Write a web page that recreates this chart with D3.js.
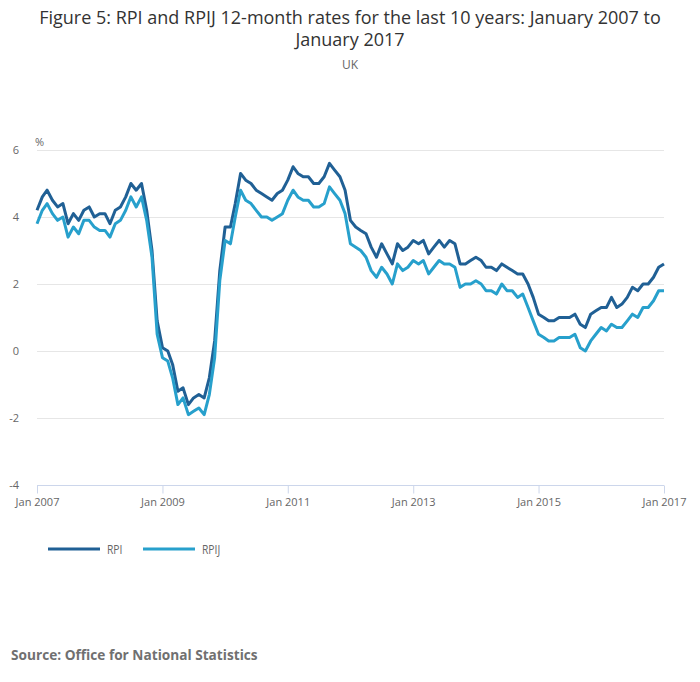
<!DOCTYPE html>
<html>
<head>
<meta charset="utf-8">
<script src="https://cdn.jsdelivr.net/npm/d3@7"></script>
<style>
  body { margin: 0; background: #fff; }
  text { font-family: "Open Sans", sans-serif; }
</style>
</head>
<body>
<script>
// chart size
var width = 700,
    height = 682;

// monthly 12-month rates, Jan 2007 .. Jan 2017
var startMonth = new Date(2007, 0, 1);

var rpi = [
  4.2, 4.6, 4.8, 4.5, 4.3, 4.4, 3.8, 4.1, 3.9, 4.2, 4.3, 4.0,
  4.1, 4.1, 3.8, 4.2, 4.3, 4.6, 5.0, 4.8, 5.0, 4.2, 3.0, 0.9,
  0.1, 0.0, -0.4, -1.2, -1.1, -1.6, -1.4, -1.3, -1.4, -0.8, 0.3, 2.4,
  3.7, 3.7, 4.4, 5.3, 5.1, 5.0, 4.8, 4.7, 4.6, 4.5, 4.7, 4.8,
  5.1, 5.5, 5.3, 5.2, 5.2, 5.0, 5.0, 5.2, 5.6, 5.4, 5.2, 4.8,
  3.9, 3.7, 3.6, 3.5, 3.1, 2.8, 3.2, 2.9, 2.6, 3.2, 3.0, 3.1,
  3.3, 3.2, 3.3, 2.9, 3.1, 3.3, 3.1, 3.3, 3.2, 2.6, 2.6, 2.7,
  2.8, 2.7, 2.5, 2.5, 2.4, 2.6, 2.5, 2.4, 2.3, 2.3, 2.0, 1.6,
  1.1, 1.0, 0.9, 0.9, 1.0, 1.0, 1.0, 1.1, 0.8, 0.7, 1.1, 1.2,
  1.3, 1.3, 1.6, 1.3, 1.4, 1.6, 1.9, 1.8, 2.0, 2.0, 2.2, 2.5,
  2.6
];

var rpij = [
  3.8, 4.2, 4.4, 4.1, 3.9, 4.0, 3.4, 3.7, 3.5, 3.9, 3.9, 3.7,
  3.6, 3.6, 3.4, 3.8, 3.9, 4.2, 4.6, 4.3, 4.6, 3.9, 2.8, 0.5,
  -0.2, -0.3, -0.8, -1.6, -1.4, -1.9, -1.8, -1.7, -1.9, -1.3, -0.2, 2.1,
  3.3, 3.2, 4.0, 4.8, 4.5, 4.4, 4.2, 4.0, 4.0, 3.9, 4.0, 4.1,
  4.5, 4.8, 4.6, 4.5, 4.5, 4.3, 4.3, 4.4, 4.9, 4.7, 4.5, 4.1,
  3.2, 3.1, 3.0, 2.8, 2.4, 2.2, 2.5, 2.3, 2.0, 2.6, 2.4, 2.5,
  2.7, 2.6, 2.7, 2.3, 2.5, 2.7, 2.6, 2.6, 2.5, 1.9, 2.0, 2.0,
  2.1, 2.0, 1.8, 1.8, 1.7, 2.0, 1.8, 1.8, 1.6, 1.7, 1.3, 0.9,
  0.5, 0.4, 0.3, 0.3, 0.4, 0.4, 0.4, 0.5, 0.1, 0.0, 0.3, 0.5,
  0.7, 0.6, 0.8, 0.7, 0.7, 0.9, 1.1, 1.0, 1.3, 1.3, 1.5, 1.8,
  1.8
];

var yTicks = [-4, -2, 0, 2, 4, 6];
var xTickYears = [2007, 2009, 2011, 2013, 2015, 2017];

var seriesNames = ["RPI", "RPIJ"];
var seriesColors = ["#206095", "#27a0cc"];

var titleLines = [
  "Figure 5: RPI and RPIJ 12-month rates for the last 10 years: January 2007 to",
  "January 2017"
];
var subtitle = "UK";
var source = "Source: Office for National Statistics";

// plot area
var margin = {top: 150, right: 36, bottom: 197, left: 37};

var months = rpi.map(function(d, i) { return d3.timeMonth.offset(startMonth, i); });

var x = d3.scaleTime()
    .domain([months[0], months[months.length - 1]])
    .range([margin.left, width - margin.right]);

var y = d3.scaleLinear()
    .domain([-4, 6])
    .range([height - margin.bottom, margin.top]);

var svg = d3.select("body").append("svg")
    .attr("width", width)
    .attr("height", height);

// legend labels are set in a narrower face in the original
function narrow(sel, k) {
  sel.each(function() {
    var w = this.getComputedTextLength();
    d3.select(this).attr("textLength", w * k).attr("lengthAdjust", "spacingAndGlyphs");
  });
}

//title
svg.selectAll(".title")
    .data(titleLines)
    .enter().append("text")
    .attr("class", "title")
    .attr("x", width / 2)
    .attr("y", function(d, i) { return 24 + i * 22; })
    .attr("text-anchor", "middle")
    .attr("font-size", 18)
    .attr("fill", "#333")
    .text(function(d) { return d; });

svg.append("text")
    .attr("x", width / 2)
    .attr("y", 69)
    .attr("text-anchor", "middle")
    .attr("font-size", 12)
    .attr("fill", "#666")
    .text(subtitle);

// grid lines
svg.append("g").selectAll("line")
    .data(yTicks)
    .enter().append("line")
    .attr("x1", margin.left)
    .attr("x2", width - margin.right)
    .attr("y1", function(d) { return y(d) + 0.5; })
    .attr("y2", function(d) { return y(d) + 0.5; })
    .attr("stroke", function(d) { return d === -4 ? "#ccd6eb" : "#e6e6e6"; })
    .attr("stroke-width", 1);

// y labels
svg.append("g").selectAll("text")
    .data(yTicks)
    .enter().append("text")
    .attr("x", 19)
    .attr("y", function(d) { return y(d) + 4; })
    .attr("text-anchor", "end")
    .attr("font-size", 11)
    .attr("fill", "#666")
    .text(function(d) { return d; });

svg.append("text")
    .attr("x", 35)
    .attr("y", 146)
    .attr("font-size", 11)
    .attr("fill", "#666")
    .text("%");

// x axis
var xAxis = d3.axisBottom(x)
    .tickValues(xTickYears.map(function(yr) { return new Date(yr, 0, 1); }))
    .tickFormat(d3.timeFormat("Jan %Y"))
    .tickSize(8)
    .tickSizeOuter(0);

var gx = svg.append("g")
    .attr("transform", "translate(0," + (y(-4) + 0.5) + ")")
    .call(xAxis);

gx.select(".domain").remove();
gx.selectAll(".tick line").attr("stroke", "#ccd6eb");
gx.selectAll(".tick text")
    .attr("fill", "#666")
    .attr("font-size", 11)
    .attr("font-family", "Open Sans, sans-serif")
    .attr("dy", "0.71em")
    .attr("y", 12.5);

// lines
var line = d3.line()
    .x(function(d, i) { return x(months[i]); })
    .y(function(d) { return y(d); });

svg.append("g").selectAll("path")
    .data([rpi, rpij])
    .enter().append("path")
    .attr("d", line)
    .attr("fill", "none")
    .attr("stroke", function(d, i) { return seriesColors[i]; })
    .attr("stroke-width", 3)
    .attr("stroke-linejoin", "round");

// legend
var legend = svg.append("g").selectAll("g")
    .data(seriesNames)
    .enter().append("g")
    .attr("transform", function(d, i) { return "translate(" + (48 + i * 95) + ",549)"; });

legend.append("line")
    .attr("x1", 0)
    .attr("x2", 52)
    .attr("stroke", function(d, i) { return seriesColors[i]; })
    .attr("stroke-width", 3);

legend.append("text")
    .attr("x", 59)
    .attr("y", 4.5)
    .attr("font-size", 12)
    .attr("fill", "#666")
    .text(function(d) { return d; })
    .call(narrow, 0.86);

// source
svg.append("text")
    .attr("x", 11)
    .attr("y", 660)
    .attr("font-size", 14)
    .attr("font-weight", "bold")
    .attr("fill", "#707070")
    .text(source)
    .call(narrow, 0.975);
</script>
</body>
</html>
